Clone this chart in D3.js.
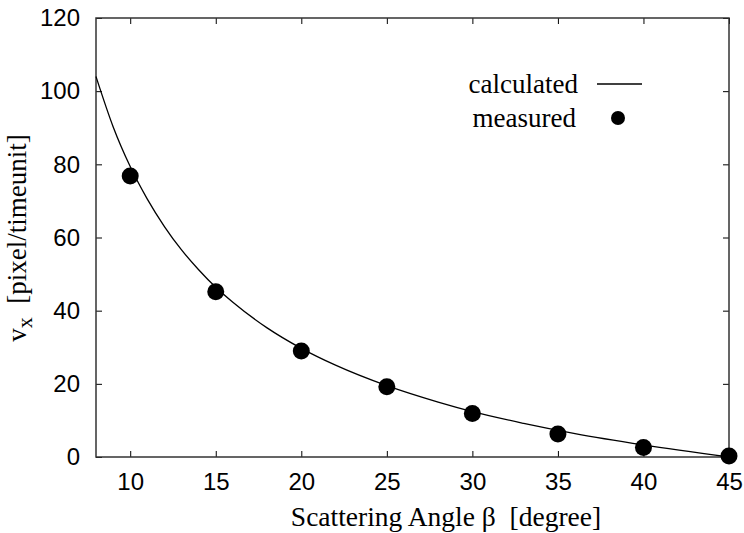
<!DOCTYPE html>
<html>
<head>
<meta charset="utf-8">
<script src="https://cdn.jsdelivr.net/npm/d3@7"></script>
<style>
  body { margin: 0; background: #fff; }
  .tick text { font-family: "Liberation Sans", Arial, sans-serif; font-size: 24px; fill: #000; }
  .serif { font-family: "Liberation Serif", "Times New Roman", serif; font-size: 27px; fill: #000; }
</style>
</head>
<body>
<script>
// values
const angles = [10, 15, 20, 25, 30, 35, 40, 45];
const measured = [76.8, 45.2, 29.0, 19.2, 11.9, 6.3, 2.6, 0.3];

const curveAngles = [8, 9, 10, 11, 12, 13, 14, 15, 16, 18, 20, 22, 25, 28, 30, 33, 36, 40, 45];
const curveValues = [104, 90.3, 79.4, 70.5, 63, 56.6, 51.2, 46.4, 42.3, 35.3, 29.7, 25.1, 19.5, 15, 12.4, 9.2, 6.4, 3.3, 0];

const xTicks = [10, 15, 20, 25, 30, 35, 40, 45];
const yTicks = [0, 20, 40, 60, 80, 100, 120];

const width = 744, height = 533;
const plotLeft = 96, plotRight = 729, plotTop = 18, plotBottom = 457;

const x = d3.scaleLinear().domain([8, 45]).range([plotLeft, plotRight]);
const y = d3.scaleLinear().domain([0, 120]).range([plotBottom, plotTop]);

const svg = d3.select('body').append('svg')
    .attr('width', width)
    .attr('height', height);

// axes, gnuplot style: ticks inside, mirrored
svg.append('g')
    .attr('transform', 'translate(0,' + plotBottom + ')')
    .call(d3.axisBottom(x).tickValues(xTicks).tickSize(-6).tickSizeOuter(0).tickPadding(16))
    .call(g => g.select('.domain').remove());

svg.append('g')
    .attr('transform', 'translate(0,' + plotTop + ')')
    .call(d3.axisTop(x).tickValues(xTicks).tickSize(-6).tickSizeOuter(0).tickFormat(''))
    .call(g => g.select('.domain').remove());

svg.append('g')
    .attr('transform', 'translate(' + plotLeft + ',0)')
    .call(d3.axisLeft(y).tickValues(yTicks).tickSize(-6).tickSizeOuter(0).tickPadding(16))
    .call(g => g.select('.domain').remove());

svg.append('g')
    .attr('transform', 'translate(' + plotRight + ',0)')
    .call(d3.axisRight(y).tickValues(yTicks).tickSize(-6).tickSizeOuter(0).tickFormat(''))
    .call(g => g.select('.domain').remove());

svg.selectAll('.tick line').attr('stroke', '#000').attr('stroke-width', 1);

svg.append('rect')
    .attr('x', plotLeft).attr('y', plotTop)
    .attr('width', plotRight - plotLeft).attr('height', plotBottom - plotTop)
    .attr('fill', 'none')
    .attr('stroke', '#333')
    .attr('stroke-width', 1.5);

// calculated curve
const line = d3.line()
    .x((d, i) => x(curveAngles[i]))
    .y(d => y(d))
    .curve(d3.curveMonotoneX);

svg.append('path')
    .datum(curveValues)
    .attr('d', line)
    .attr('fill', 'none')
    .attr('stroke', '#000')
    .attr('stroke-width', 1.3);

// measured points
svg.selectAll('.pt')
    .data(measured)
    .enter().append('circle')
    .attr('class', 'pt')
    .attr('cx', (d, i) => x(angles[i]))
    .attr('cy', d => y(d))
    .attr('r', 8.5)
    .attr('fill', '#000');

// legend
svg.append('text').attr('class', 'serif')
    .attr('x', 578).attr('y', 93)
    .attr('text-anchor', 'end')
    .text('calculated');
svg.append('line')
    .attr('x1', 597).attr('x2', 642)
    .attr('y1', 84).attr('y2', 84)
    .attr('stroke', '#000').attr('stroke-width', 1.3);

svg.append('text').attr('class', 'serif')
    .attr('x', 576).attr('y', 127)
    .attr('text-anchor', 'end')
    .text('measured');
svg.append('circle')
    .attr('cx', 618).attr('cy', 118)
    .attr('r', 7)
    .attr('fill', '#000');

// axis titles
svg.append('text').attr('class', 'serif')
    .attr('x', 446).attr('y', 526)
    .attr('text-anchor', 'middle')
    .style('white-space', 'pre')
    .style('font-size', '27.5px')
    .text('Scattering Angle β  [degree]');

const yl = svg.append('text').attr('class', 'serif')
    .attr('transform', 'translate(26,238) rotate(-90)')
    .attr('text-anchor', 'middle')
    .style('white-space', 'pre');
yl.append('tspan').text('v');
yl.append('tspan').attr('dy', 6).attr('font-size', 22).text('x');
yl.append('tspan').attr('dy', -6).text('  [pixel/timeunit]');
</script>
</body>
</html>
